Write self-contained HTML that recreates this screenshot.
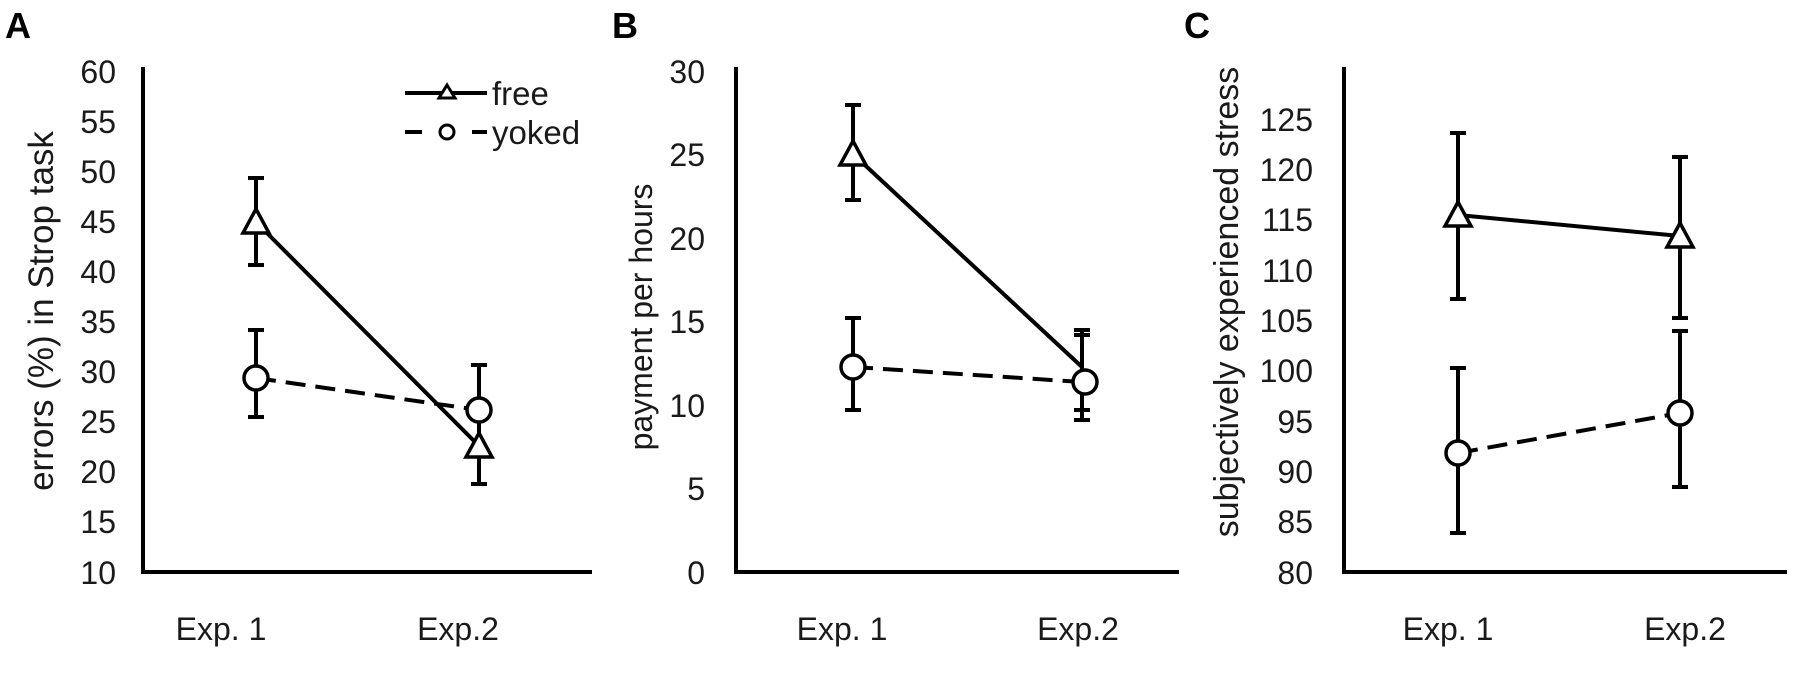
<!DOCTYPE html>
<html><head><meta charset="utf-8"><style>
html,body{margin:0;padding:0;background:#fff;}
svg{display:block;}
text{font-family:"Liberation Sans",Arial,sans-serif;fill:#1a1a1a;}
</style></head><body>
<svg width="1808" height="679" viewBox="0 0 1808 679" xmlns="http://www.w3.org/2000/svg">
<defs>
<g id="tri"><polygon points="0,-13 13,11 -13,11" fill="#fff" stroke="#000" stroke-width="3.5" stroke-linejoin="miter"/></g>
<g id="cir"><circle r="12" fill="#fff" stroke="#000" stroke-width="3.5"/></g>
</defs>

<!-- Panel A -->
<text x="5" y="38" font-size="36" font-weight="bold" style="fill:#000">A</text>
<g font-size="32" text-anchor="end">
<text x="116" y="83">60</text><text x="116" y="133">55</text><text x="116" y="183">50</text><text x="116" y="233">45</text><text x="116" y="283">40</text><text x="116" y="333">35</text><text x="116" y="383">30</text><text x="116" y="433">25</text><text x="116" y="483">20</text><text x="116" y="533">15</text><text x="116" y="584">10</text>
</g>
<text transform="translate(53,311) rotate(-90)" font-size="35" text-anchor="middle">errors (%) in Strop task</text>
<path d="M143,67 V572 H592" fill="none" stroke="#000" stroke-width="4"/>
<g font-size="32" text-anchor="middle"><text x="221" y="640">Exp. 1</text><text x="458" y="640">Exp.2</text></g>
<g stroke="#000" stroke-width="4" fill="none">
<path d="M256,178 V265 M248,178 H264 M248,265 H264"/>
<path d="M256,330 V417 M248,330 H264 M248,417 H264"/>
<path d="M479,365 V484 M471,365 H487 M471,484 H487"/>
<line x1="256" y1="222" x2="479" y2="446"/>
<line x1="256" y1="378" x2="479" y2="410" stroke-dasharray="20,10"/>
</g>
<use href="#tri" x="256" y="222"/>
<use href="#tri" x="479" y="446"/>
<use href="#cir" x="256" y="378"/>
<use href="#cir" x="479" y="410"/>
<g stroke="#000" stroke-width="4">
<line x1="405" y1="93" x2="487" y2="93"/>
<line x1="405" y1="132" x2="422" y2="132"/><line x1="472" y1="132" x2="487" y2="132"/>
</g>
<polygon points="447,85 455,98 439,98" fill="#fff" stroke="#000" stroke-width="3"/>
<circle cx="447" cy="132" r="7" fill="#fff" stroke="#000" stroke-width="3"/>
<g font-size="33"><text x="492" y="105">free</text><text x="492" y="144">yoked</text></g>

<!-- Panel B -->
<text x="612" y="38" font-size="36" font-weight="bold" style="fill:#000">B</text>
<g font-size="32" text-anchor="end">
<text x="705" y="83">30</text><text x="705" y="166">25</text><text x="705" y="250">20</text><text x="705" y="333">15</text><text x="705" y="417">10</text><text x="705" y="500">5</text><text x="705" y="584">0</text>
</g>
<text transform="translate(652,317) rotate(-90)" font-size="32" text-anchor="middle">payment per hours</text>
<path d="M736,67 V572 H1179" fill="none" stroke="#000" stroke-width="4"/>
<g font-size="32" text-anchor="middle"><text x="842" y="640">Exp. 1</text><text x="1078" y="640">Exp.2</text></g>
<g stroke="#000" stroke-width="4" fill="none">
<path d="M853,105 V200 M845,105 H861 M845,200 H861"/>
<path d="M853,318 V410 M845,318 H861 M845,410 H861"/>
<path d="M1082,330 V420 M1074,330 H1090 M1074,420 H1090"/>
<path d="M1082,335 V410 M1074,335 H1090 M1074,410 H1090"/>
<line x1="853" y1="154" x2="1082" y2="367"/>
<line x1="853" y1="367" x2="1082" y2="382" stroke-dasharray="20,10"/>
</g>
<use href="#tri" x="853" y="154"/>
<use href="#cir" x="853" y="367"/>
<use href="#cir" x="1085" y="382"/>

<!-- Panel C -->
<text x="1184" y="38" font-size="36" font-weight="bold" style="fill:#000">C</text>
<g font-size="32" text-anchor="end">
<text x="1313" y="131">125</text><text x="1313" y="181">120</text><text x="1313" y="231">115</text><text x="1313" y="282">110</text><text x="1313" y="332">105</text><text x="1313" y="382">100</text><text x="1313" y="433">95</text><text x="1313" y="483">90</text><text x="1313" y="533">85</text><text x="1313" y="584">80</text>
</g>
<text transform="translate(1238,302) rotate(-90)" font-size="34" text-anchor="middle">subjectively  experienced stress</text>
<path d="M1344,67 V572 H1787" fill="none" stroke="#000" stroke-width="4"/>
<g font-size="32" text-anchor="middle"><text x="1448" y="640">Exp. 1</text><text x="1685" y="640">Exp.2</text></g>
<g stroke="#000" stroke-width="4" fill="none">
<path d="M1458,133 V299 M1450,133 H1466 M1450,299 H1466"/>
<path d="M1680,157 V318 M1672,157 H1688 M1672,318 H1688"/>
<path d="M1458,368 V533 M1450,368 H1466 M1450,533 H1466"/>
<path d="M1680,331 V487 M1672,331 H1688 M1672,487 H1688"/>
<line x1="1458" y1="215" x2="1680" y2="236"/>
<line x1="1458" y1="453" x2="1680" y2="413" stroke-dasharray="20,10"/>
</g>
<use href="#tri" x="1458" y="215"/>
<use href="#tri" x="1680" y="236"/>
<use href="#cir" x="1458" y="453"/>
<use href="#cir" x="1680" y="413"/>
</svg>
</body></html>
